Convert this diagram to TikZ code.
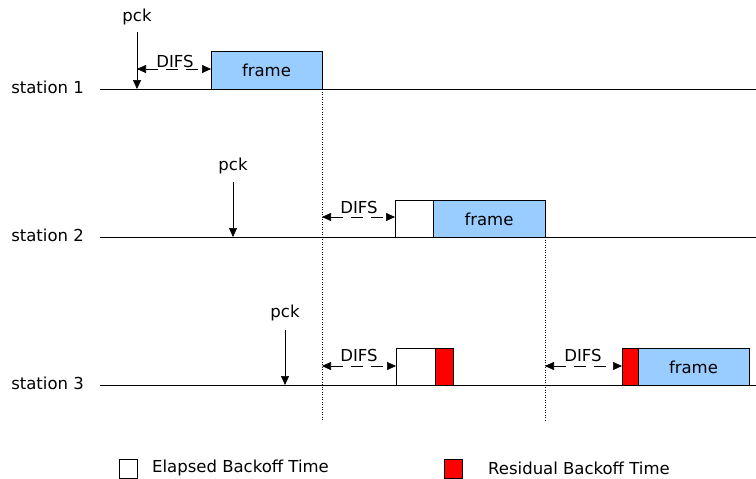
\documentclass[tikz,border=0pt]{standalone}
\usepackage{fontspec}
\setmainfont{DejaVu Sans}
\usetikzlibrary{arrows.meta}
\definecolor{framebl}{HTML}{99CCFF}
\begin{document}
\begin{tikzpicture}[x=1pt,y=-1pt,
  every node/.style={font=\fontsize{16.5}{18}\selectfont, inner sep=0pt},
  timeline/.style={line width=0.6pt},
  framebox/.style={draw, line width=0.6pt, fill=framebl},
  backbox/.style={draw, line width=0.6pt, fill=white},
  residbox/.style={draw, line width=0.6pt, fill=red},
  pckarrow/.style={line width=0.6pt, -{Triangle[length=9pt,width=8pt]}},
  difsarrow/.style={line width=0.6pt, dash pattern=on 12pt off 8pt, {Triangle[length=9pt,width=8pt]}-{Triangle[length=9pt,width=8pt]}},
  sync/.style={line width=0.5pt, dotted},
  stlabel/.style={anchor=east}
]
\useasboundingbox (0,0) rectangle (756,479);

% time lines of the three stations
\foreach \i/\y in {1/89,2/237,3/385}{
  \coordinate (l\i) at (100,\y);
  \coordinate (r\i) at (756,\y);
  \draw[timeline] (l\i) -- (r\i);
  \node[stlabel] (st\i) at (84,\y-2) {station \i};
}

% station 1
\node (pck1) at (137,17) {pck};
\coordinate (p1a) at (137,32);
\coordinate (p1b) at (137,89);
\draw[pckarrow] (p1a) -- (p1b);
\draw[framebox] (211,51) rectangle (322,89);
\node (fr1) at (266.5,70) {frame};
\coordinate (d1a) at (137,69);
\coordinate (d1b) at (211,69);
\draw[difsarrow] (d1a) -- (d1b);
\node (difs1) at (175,61) {DIFS};

% station 2
\node (pck2) at (233,166) {pck};
\coordinate (p2a) at (233,182);
\coordinate (p2b) at (233,237);
\draw[pckarrow] (p2a) -- (p2b);
\draw[backbox] (395,200) rectangle (433,237);
\draw[framebox] (433,200) rectangle (545,237);
\node (fr2) at (489,219) {frame};
\coordinate (d2a) at (322,217);
\coordinate (d2b) at (395,217);
\draw[difsarrow] (d2a) -- (d2b);
\node (difs2) at (359,207) {DIFS};

% station 3
\node (pck3) at (285,313) {pck};
\coordinate (p3a) at (285,330);
\coordinate (p3b) at (285,385);
\draw[pckarrow] (p3a) -- (p3b);
\draw[backbox] (396,348) rectangle (435,385);
\draw[residbox] (435,348) rectangle (453,385);
\coordinate (d3a) at (322,366);
\coordinate (d3b) at (396,366);
\draw[difsarrow] (d3a) -- (d3b);
\node (difs3) at (359,355) {DIFS};
\draw[residbox] (622,348) rectangle (638,385);
\draw[framebox] (638,348) rectangle (749,385);
\node (fr3) at (693.5,367) {frame};
\coordinate (d4a) at (545,366);
\coordinate (d4b) at (622,366);
\draw[difsarrow] (d4a) -- (d4b);
\node (difs4) at (583,355) {DIFS};

% end-of-frame markers
\coordinate (s1a) at (322,89);
\coordinate (s1b) at (322,420);
\coordinate (s2a) at (545,237);
\coordinate (s2b) at (545,420);
\draw[sync] (s1a) -- (s1b);
\draw[sync] (s2a) -- (s2b);

% legend
\draw[backbox] (119,459) rectangle (137,478);
\node[anchor=west] (lg1) at (152,468) {Elapsed Backoff Time};
\draw[residbox] (444,459) rectangle (462,478);
\node[anchor=west] (lg2) at (488,468) {Residual Backoff Time};
\end{tikzpicture}
\end{document}
